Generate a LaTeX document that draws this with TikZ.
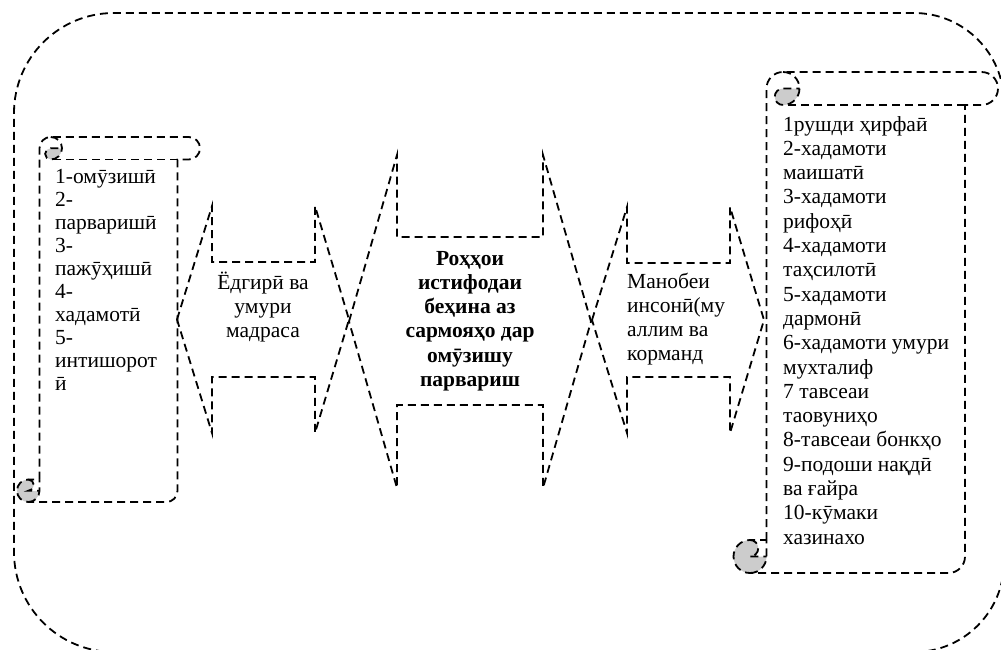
\documentclass[tikz,border=0pt]{standalone}
\usepackage{fontspec}
\setmainfont{Liberation Serif}
\tikzset{
  dsh/.style={draw=black, line width=1.8pt, dash pattern=on 8pt off 5pt},
  curl/.style={fill={rgb,255:red,204;green,204;blue,204}},
  txt/.style={inner sep=0pt, font=\fontsize{21.5}{24.3}\selectfont},
  txtL/.style={inner sep=0pt, font=\fontsize{21.5}{23}\selectfont},
}
% vertical scroll, DrawingML geometry: left, top, right, bottom, ch
\newcommand\myscroll[5]{%
 \pgfmathsetmacro\sT{#2}\pgfmathsetmacro\sB{#4}%
 \pgfmathsetmacro\cHh{#5/2}\pgfmathsetmacro\cHq{#5/4}%
 \pgfmathsetmacro\xA{#1+#5}\pgfmathsetmacro\xH{#1+#5/2}%
 \pgfmathsetmacro\xC{#1+1.5*#5}\pgfmathsetmacro\xD{#1+2*#5}%
 \pgfmathsetmacro\xF{#3-#5}\pgfmathsetmacro\xG{#3-#5/2}%
 \pgfmathsetmacro\yA{#2+#5}\pgfmathsetmacro\yH{#2+#5/2}%
 \pgfmathsetmacro\yC{#4-#5}\pgfmathsetmacro\yD{#4-#5/2}%
 \fill[curl] (\xD,\yH) arc[start angle=0,delta angle=90,radius=\cHh]
   arc[start angle=90,delta angle=180,radius=\cHq] -- cycle;
 \fill[curl] (\xA,\yD) arc[start angle=0,delta angle=270,radius=\cHh]
   arc[start angle=270,delta angle=180,radius=\cHq] -- cycle;
 \draw[dsh] (\xA,\yC) -- (\xA,\yH) arc[start angle=180,delta angle=90,radius=\cHh]
   -- (\xG,\sT) arc[start angle=270,delta angle=180,radius=\cHh]
   -- (\xF,\yA) -- (\xF,\yD) arc[start angle=0,delta angle=90,radius=\cHh]
   -- (\xH,\sB) arc[start angle=90,delta angle=180,radius=\cHh] -- cycle;
 \draw[dsh] (\xC,\sT) arc[start angle=270,delta angle=180,radius=\cHh]
   arc[start angle=90,delta angle=180,radius=\cHq] -- (\xD,\yH);
 \draw[dsh] (\xF,\yA) -- (\xC,\yA);
 \draw[dsh] (\xH,\yC) arc[start angle=270,delta angle=180,radius=\cHq] -- (\xA,\yD);
 \draw[dsh] (\xH,\sB) arc[start angle=90,delta angle=-90,radius=\cHh] -- (\xA,\yC);
}
% left-right arrow: l, r, x2, x3, t, b, y1, y2
\newcommand\lrarrow[8]{%
 \pgfmathsetmacro\vC{(#5+#6)/2}%
 \draw[dsh] (#1,\vC) -- (#3,#5) -- (#3,#7) -- (#4,#7) -- (#4,#5) -- (#2,\vC)
   -- (#4,#6) -- (#4,#8) -- (#3,#8) -- (#3,#6) -- cycle;
}
\begin{document}
\begin{tikzpicture}[x=1pt,y=1pt,yscale=-1]
\useasboundingbox (0,0) rectangle (1001,649);
\clip (0,0) rectangle (1001,649);
% outer frame
\draw[dsh] (14,113) arc[start angle=180,delta angle=90,radius=100]
  -- (914,13) arc[start angle=270,delta angle=90,radius=90]
  -- (1004,562) arc[start angle=0,delta angle=90,radius=90]
  -- (114,652) arc[start angle=90,delta angle=90,radius=100] -- cycle;
% scrolls
\myscroll{17}{137}{200}{502}{22.5}
\myscroll{733.5}{72}{998}{573}{33}
% arrows
\lrarrow{177}{349}{212}{315}{206}{433}{262}{377}
\lrarrow{349}{591}{397}{543}{155}{488}{237}{405}
\lrarrow{592}{764}{627}{730}{207}{433}{263}{377}
% texts
\node[txtL, anchor=base west] (lefttxt) at (55,183) {\begin{tabular}[t]{@{}l@{}}1-омӯзишӣ\\2-\\парваришӣ\\3-\\пажӯҳишӣ\\4-\\хадамотӣ\\5-\\интишорот\\ӣ\end{tabular}};
\node[txt, anchor=base west] (righttxt) at (783,131) {\begin{tabular}[t]{@{}l@{}}1рушди ҳирфаӣ\\2-хадамоти\\маишатӣ\\3-хадамоти\\рифоҳӣ\\4-хадамоти\\таҳсилотӣ\\5-хадамоти\\дармонӣ\\6-хадамоти умури\\мухталиф\\7 тавсеаи\\таовуниҳо\\8-тавсеаи бонкҳо\\9-подоши нақдӣ\\ва ғайра\\10-кӯмаки\\хазинахо\end{tabular}};
\node[txt, anchor=base] (arrowA) at (263,289) {\begin{tabular}[t]{@{}c@{}}Ёдгирӣ ва\\умури\\мадраса\end{tabular}};
\node[txt, anchor=base] (centre) at (470,265) {\bfseries\begin{tabular}[t]{@{}c@{}}Роҳҳои\\истифодаи\\беҳина аз\\сармояҳо дар\\омӯзишу\\парвариш\end{tabular}};
\node[txt, anchor=base west] (arrowB) at (627,288) {\begin{tabular}[t]{@{}l@{}}Манобеи\\инсонӣ(му\\аллим ва\\корманд\end{tabular}};
\end{tikzpicture}
\end{document}
